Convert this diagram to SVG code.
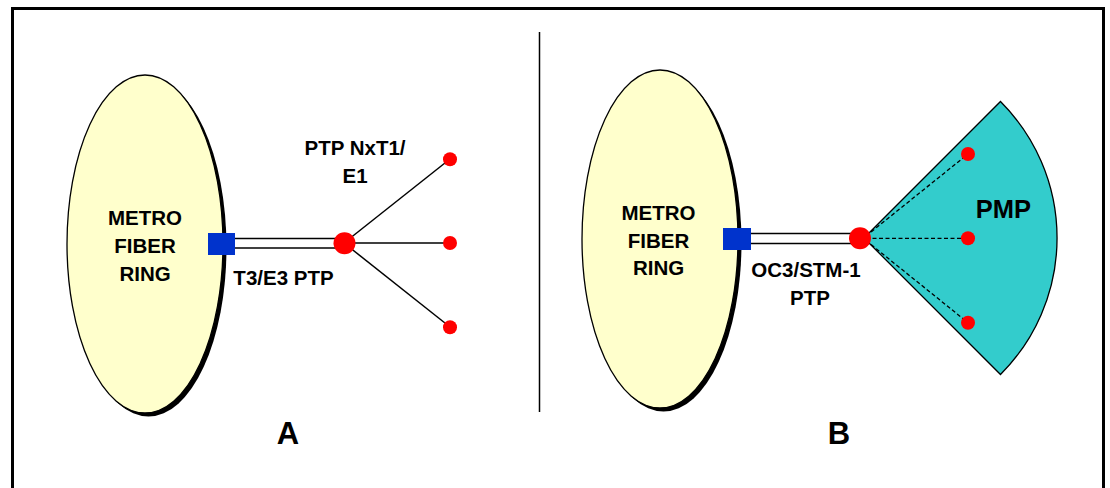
<svg xmlns="http://www.w3.org/2000/svg" width="1110" height="488" viewBox="0 0 1110 488">
  <defs>
    <style>
      .lbl { font-family: "Liberation Sans", Arial, sans-serif; font-weight: bold; fill: #000; text-anchor: middle; }
      .ring { fill: #FFFFCC; stroke: #000; stroke-width: 1.3; }
      .shadow { fill: #000; }
      .port { fill: #0033CC; }
      .hub { fill: #FF0000; }
      .link { stroke: #000; stroke-width: 1.5; fill: none; }
      .dash { stroke: #000; stroke-width: 1.3; stroke-dasharray: 4 2.5; fill: none; }
    </style>
  </defs>

  <rect x="0" y="0" width="1110" height="488" fill="#fff"/>

  <!-- outer frame (bottom edge lies below the canvas) -->
  <rect x="12.5" y="8.5" width="1091" height="500" fill="none" stroke="#000" stroke-width="3"/>

  <!-- divider between panels -->
  <line x1="539.5" y1="32" x2="539.5" y2="412" stroke="#000" stroke-width="1.5"/>

  <!-- connectors -->
  <g id="connectors">
    <!-- panel A: T3/E3 trunk -->
    <line class="link" x1="235" y1="238.5" x2="340" y2="238.5"/>
    <line class="link" x1="235" y1="248" x2="340" y2="248"/>
    <!-- panel A: NxT1/E1 spokes -->
    <line class="link" x1="344" y1="243" x2="450" y2="159"/>
    <line class="link" x1="344" y1="243" x2="450" y2="243"/>
    <line class="link" x1="344" y1="243" x2="450" y2="327"/>
    <!-- panel B: OC3/STM-1 trunk -->
    <line class="link" x1="751" y1="233.5" x2="856" y2="233.5"/>
    <line class="link" x1="751" y1="243.5" x2="856" y2="243.5"/>
  </g>

  <!-- panel A ring -->
  <g id="ringA">
    <ellipse class="shadow" cx="148.5" cy="247.5" rx="78" ry="169"/>
    <ellipse class="ring" cx="145" cy="244" rx="78" ry="169"/>
    <text class="lbl" font-size="20.5" x="145" y="225">METRO</text>
    <text class="lbl" font-size="20.5" x="145" y="253">FIBER</text>
    <text class="lbl" font-size="20.5" x="145" y="281">RING</text>
  </g>

  <g id="portA"><rect class="port" x="208" y="233" width="27" height="22"/></g>

  <g id="hubA"><circle class="hub" cx="344.5" cy="243.3" r="11"/></g>

  <g id="remotesA">
    <circle class="hub" cx="450" cy="159.3" r="7"/>
    <circle class="hub" cx="450" cy="243" r="7"/>
    <circle class="hub" cx="450" cy="327.3" r="7"/>
  </g>

  <g id="labelsA">
    <text class="lbl" font-size="20.5" x="355" y="155">PTP NxT1/</text>
    <text class="lbl" font-size="20.5" x="355" y="183">E1</text>
    <text class="lbl" font-size="20.5" x="283.5" y="285">T3/E3 PTP</text>
    <text class="lbl" font-size="31" x="288" y="444">A</text>
  </g>

  <!-- panel B ring -->
  <g id="ringB">
    <ellipse class="shadow" cx="663.5" cy="242.5" rx="78" ry="169"/>
    <ellipse class="ring" cx="660" cy="239" rx="78" ry="169"/>
    <text class="lbl" font-size="20.5" x="658.5" y="220">METRO</text>
    <text class="lbl" font-size="20.5" x="658.5" y="248">FIBER</text>
    <text class="lbl" font-size="20.5" x="658.5" y="275">RING</text>
  </g>

  <g id="portB"><rect class="port" x="723" y="228" width="28" height="22"/></g>

  <!-- point-to-multipoint sector -->
  <g id="sectorB">
    <path d="M864 238 L1000.5 101.5 A193 193 0 0 1 1000.5 374.5 Z" fill="#33CCCC" stroke="#000" stroke-width="1.3"/>
    <line class="dash" x1="866" y1="236" x2="968" y2="154"/>
    <line class="dash" x1="866" y1="238.3" x2="968" y2="238.3"/>
    <line class="dash" x1="866" y1="240.5" x2="968" y2="322.7"/>
    <circle class="hub" cx="968" cy="154" r="7"/>
    <circle class="hub" cx="968" cy="238.3" r="7"/>
    <circle class="hub" cx="968" cy="322.7" r="7"/>
    <text class="lbl" font-size="25.5" x="1003.5" y="218">PMP</text>
  </g>

  <g id="hubB"><circle class="hub" cx="860" cy="238.3" r="11"/></g>

  <g id="labelsB">
    <text class="lbl" font-size="20.5" x="806" y="277">OC3/STM-1</text>
    <text class="lbl" font-size="20.5" x="810" y="305">PTP</text>
    <text class="lbl" font-size="31" x="839" y="444">B</text>
  </g>
</svg>
